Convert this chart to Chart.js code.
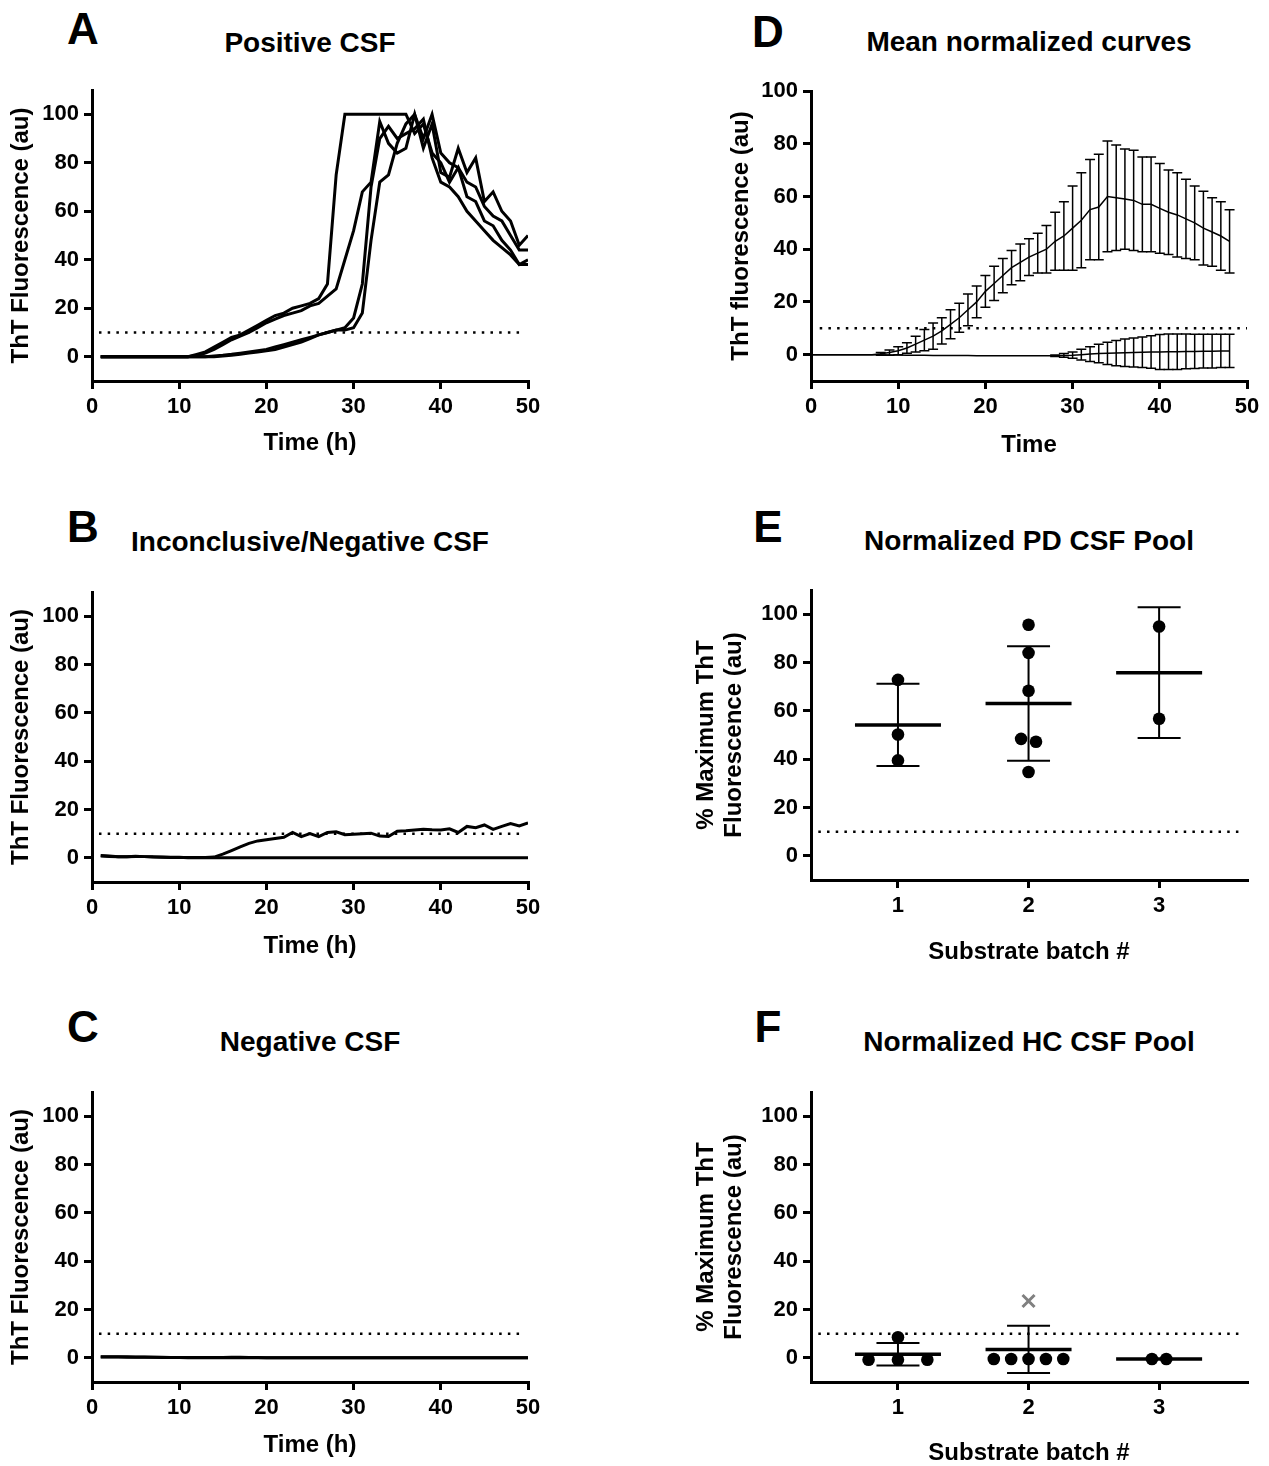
<!DOCTYPE html>
<html>
<head>
<meta charset="utf-8">
<script src="https://cdn.jsdelivr.net/npm/chart.js@4.4.0/dist/chart.umd.min.js"></script>
<style>
  body { margin: 0; background: #fff; }
  #page { position: relative; width: 1269px; height: 1466px; overflow: hidden; }
  canvas { position: absolute; }
  .lbl { position: absolute; transform: translate(-50%, -50%); white-space: nowrap;
         font-family: 'Liberation Sans', Arial, Helvetica, sans-serif; font-weight: bold; color: #000; line-height: 1; }
  .letter { font-size: 44px; }
  .title { font-size: 28px; }
</style>
</head>
<body>
<div id="page">
  <canvas id="chartA"></canvas>
  <canvas id="chartB"></canvas>
  <canvas id="chartC"></canvas>
  <canvas id="chartD"></canvas>
  <canvas id="chartE"></canvas>
  <canvas id="chartF"></canvas>

  <div class="lbl letter" style="left:83px; top:29px;">A</div>
  <div class="lbl letter" style="left:83px; top:527px;">B</div>
  <div class="lbl letter" style="left:83px; top:1027px;">C</div>
  <div class="lbl letter" style="left:768px; top:32px;">D</div>
  <div class="lbl letter" style="left:768px; top:527px;">E</div>
  <div class="lbl letter" style="left:768px; top:1027px;">F</div>

  <div class="lbl title" style="left:310px; top:43px;">Positive CSF</div>
  <div class="lbl title" style="left:310px; top:542px;">Inconclusive/Negative CSF</div>
  <div class="lbl title" style="left:310px; top:1042px;">Negative CSF</div>
  <div class="lbl title" style="left:1029px; top:42px;">Mean normalized curves</div>
  <div class="lbl title" style="left:1029px; top:541px;">Normalized PD CSF Pool</div>
  <div class="lbl title" style="left:1029px; top:1042px;">Normalized HC CSF Pool</div>
</div>

<script>
// ---- data ----
const THRESHOLD = 10;

// time points (h) for the individual RT-QuIC traces
const hours = [1,2,3,4,5,6,7,8,9,10,11,12,13,14,15,16,17,18,19,20,21,22,23,24,25,
  26,27,28,29,30,31,32,33,34,35,36,37,38,39,40,41,42,43,44,45,46,47,48,49,50];

// A: positive CSF, 4 traces
const posTrace1 = [0,0,0,0,0,0,0,0,0,0,0,1,2,4,6,8,9,11,13,15,17,18,20,21,22,
  24,30,75,100,100,100,100,100,100,100,100,92,96,84,80,72,78,66,64,56,54,48,44,38,40];
const posTrace2 = [0,0,0,0,0,0,0,0,0,0,0,0.5,1.5,3,5,7,8.5,10,12,14,15.5,17,18,19,21,
  22,25,28,40,52,68,72,97,88,84,86,100,86,96,76,74,86,76,82,64,68,60,56,46,50];
const posTrace3 = [0,0,0,0,0,0,0,0,0,0,0,0,0,0.3,0.6,1,1.5,2,2.5,3,4,5,6,7,8,
  9,10,11,12,16,30,70,90,95,90,92,94,98,82,72,70,66,60,56,52,48,45,42,38,38];
const posTrace4 = [0,0,0,0,0,0,0,0,0,0,0,0,0,0,0.3,0.6,1,1.5,2,2.5,3,4,5,6,7.5,
  9,10,11,11,12,18,48,72,75,88,96,100,90,100,84,80,78,72,70,62,58,56,50,44,44];

// B: inconclusive / negative CSF, 2 traces
const incTrace1 = [0.8,0.6,0.5,0.5,0.6,0.5,0.4,0.3,0.2,0.2,0,0,0,0,0,0,0,0,0,0,0,0,0,0,0,
  0,0,0,0,0,0,0,0,0,0,0,0,0,0,0,0,0,0,0,0,0,0,0,0,0];
const incTrace2 = [1,0.8,0.5,0.5,0.7,0.5,0.3,0.2,0.1,0.1,0.1,0.1,0.1,0.3,1.5,3,4.5,6,7,7.5,8,8.5,10.5,8.8,10,
  8.8,10.5,10.8,9.6,9.8,10,10.2,9,8.8,11,11.2,11.5,11.8,11.6,11.5,12,10.5,13,12.5,13.6,11.8,13,14.2,13.2,14.5];

// C: negative CSF, 2 traces
const negTrace1 = [0.5,0.5,0.4,0.4,0.3,0.3,0.2,0.2,0.1,0.1,0,0,0,0,0,0,0,0,0,0,0,0,0,0,0,
  0,0,0,0,0,0,0,0,0,0,0,0,0,0,0,0,0,0,0,0,0,0,0,0,0];
const negTrace2 = [0.3,0.3,0.3,0.2,0.2,0.2,0.2,0.1,0.1,0.1,0.1,0.1,0.1,0.1,0.1,0.2,0.2,0.1,0.1,0,0,0,0,0,0,
  0,0,0,0,0,0,0,0,0,0,0,0,0,0,0,0,0,0,0,0,0,0,0,0,0];

// D: mean normalized curves (mean +/- SD)
const meanHours = [0,1,2,3,4,5,6,7,8,9,10,11,12,13,14,15,16,17,18,19,20,21,22,23,24,
  25,26,27,28,29,30,31,32,33,34,35,36,37,38,39,40,41,42,43,44,45,46,47,48];
const posMean = [0,0,0,0,0,0,0,0,0.3,0.8,1.5,2.5,4,5.5,7,9,11.5,14,17,20,24,27,30,33,35,
  37,38.5,40,43,45,48,51,55,56,60,59.5,59,58.5,57,57,55.5,54,53,51.5,50,48,46.5,45,43];
const posSd = [null,null,null,null,null,null,null,null,0.5,1,1.5,2,3,4,5,5,5.5,5.5,6,6,6,6.5,6.5,6.5,7,
  7,7.5,9,11,13,16,18,19,20,21,20,19,19,18,18,17,16,16,15,14,14,13,13,12];
const negMean = [0,0,0,0,0,0,0,0,0,-0.1,-0.1,-0.2,-0.2,-0.2,-0.3,-0.3,-0.3,-0.3,-0.3,-0.4,-0.4,-0.4,-0.4,-0.4,-0.4,
  -0.4,-0.4,-0.4,-0.4,-0.3,-0.2,0,0.2,0.4,0.5,0.6,0.7,0.8,0.9,1,1,1.1,1.1,1.2,1.2,1.3,1.3,1.4,1.4];
const negSd = [null,null,null,null,null,null,null,null,null,null,null,null,null,null,null,null,null,null,null,null,null,null,null,null,null,
  null,null,null,0.3,0.7,1.2,2,2.8,3.5,4.2,4.8,5.2,5.5,5.8,6.2,6.6,6.7,6.7,6.6,6.5,6.4,6.4,6.3,6.3];

// E: normalized PD CSF pool, per substrate batch
const batches = [1, 2, 3];
const pdBatch1 = [72.8, 50.2, 39.5];
const pdBatch2 = [95.6, 84, 68.3, 48.4, 47.2, 34.7];
const pdBatch3 = [94.9, 56.7];
// horizontal jitter (in batch units) of the dots
const pdJitter1 = [0, 0, 0];
const pdJitter2 = [0, 0, 0, -0.057, 0.057, 0];
const pdJitter3 = [0, 0];

// F: normalized HC CSF pool
const hcBatch1 = [8.5, -0.8, -0.8, -0.8];
const hcBatch2 = [-0.5, -0.5, -0.5, -0.5, -0.5];
const hcBatch2Excluded = [23.5];
const hcBatch3 = [-0.5, -0.5];
const hcJitter1 = [0, -0.225, 0, 0.225];
const hcJitter2 = [-0.266, -0.133, 0, 0.133, 0.266];
const hcJitter3 = [-0.055, 0.055];

const timeTicks = [0, 10, 20, 30, 40, 50];
const pctTicks = [0, 20, 40, 60, 80, 100];

// ---- helpers ----
const FONT = "'Liberation Sans', Arial, Helvetica, sans-serif";
Chart.defaults.font.family = FONT;
Chart.defaults.color = '#000';

const TICK_FONT = { size: 22, weight: 'bold' };
const AXIS_FONT = { size: 24, weight: 'bold', lineHeight: 1.2 };
const LH = 24 * 1.2;

function xy(xs, ys) {
  return ys.map((v, i) => ({ x: xs[i], y: v }));
}
function mean(a) { return a.reduce((s, v) => s + v, 0) / a.length; }
function sd(a) {
  const m = mean(a);
  return Math.sqrt(a.reduce((s, v) => s + (v - m) * (v - m), 0) / (a.length - 1));
}

function trace(xs, ys, width) {
  return { data: xy(xs, ys), showLine: true, borderColor: '#000', borderWidth: width,
           pointRadius: 0, borderJoinStyle: 'miter' };
}
function threshold(x0, x1) {
  return { data: [{ x: x0, y: THRESHOLD }, { x: x1, y: THRESHOLD }], showLine: true,
           borderColor: '#000', borderWidth: 2.5, borderDash: [2.5, 6.2], pointRadius: 0 };
}

// draws mean +/- SD bars for datasets that carry an "errors" array
const errorBarPlugin = {
  id: 'errorBars',
  afterDatasetsDraw(chart) {
    const ctx = chart.ctx;
    const xs = chart.scales.x, ys = chart.scales.y;
    chart.data.datasets.forEach(ds => {
      if (!ds.errors) return;
      ctx.save();
      ctx.strokeStyle = '#000';
      ctx.lineWidth = ds.errorWidth;
      ds.data.forEach((p, j) => {
        const e = ds.errors[j];
        if (e == null) return;
        const px = xs.getPixelForValue(p.x);
        const top = ys.getPixelForValue(p.y + e);
        const bot = ys.getPixelForValue(p.y - e);
        const c = ds.capHalf;
        ctx.beginPath();
        ctx.moveTo(px, top); ctx.lineTo(px, bot);
        ctx.moveTo(px - c, top); ctx.lineTo(px + c, top);
        ctx.moveTo(px - c, bot); ctx.lineTo(px + c, bot);
        ctx.stroke();
      });
      ctx.restore();
    });
  }
};

function axisCommon() {
  return {
    grid: { display: true, drawOnChartArea: false, drawTicks: true, tickLength: 8,
            color: '#000', lineWidth: 3, tickWidth: 3 },
    border: { display: true, color: '#000', width: 3 },
  };
}

function makePanel(id, p) {
  const canvas = document.getElementById(id);
  const top = p.area.t - 24;
  const bottom = p.xTitleY + 17;
  canvas.width = p.canvasW;
  canvas.height = bottom - top;
  canvas.style.left = p.canvasL + 'px';
  canvas.style.top = top + 'px';

  return new Chart(canvas, {
    type: 'scatter',
    data: { datasets: p.datasets },
    options: {
      responsive: false,
      animation: false,
      events: [],
      layout: { autoPadding: false,
                padding: { left: 0, top: p.area.t - top, right: p.canvasL + p.canvasW - p.area.r, bottom: 0 } },
      plugins: { legend: { display: false }, tooltip: { enabled: false } },
      scales: {
        x: Object.assign(axisCommon(), {
          type: 'linear', min: p.xMin, max: p.xMax,
          afterBuildTicks: s => { s.ticks = p.xTicks.map(v => ({ value: v })); },
          afterFit: s => { s.height = bottom - p.area.b; },
          ticks: { font: TICK_FONT, padding: 5, color: '#000', autoSkip: false, maxRotation: 0 },
          title: { display: true, text: p.xTitle, font: AXIS_FONT, color: '#000',
                   padding: { top: 0, bottom: 17 - LH / 2 } }
        }),
        y: Object.assign(axisCommon(), {
          type: 'linear', min: p.yMin, max: p.yMax,
          afterBuildTicks: s => { s.ticks = p.yTicks.map(v => ({ value: v })); },
          afterFit: s => { s.width = p.area.l - p.canvasL; },
          ticks: { font: TICK_FONT, padding: 5, color: '#000' },
          title: { display: true, text: p.yTitle, font: AXIS_FONT, color: '#000',
                   padding: { top: p.yTitleX - p.canvasL - LH / 2, bottom: 0 } }
        })
      }
    },
    plugins: [errorBarPlugin]
  });
}

// ---- A, B, C: individual traces ----
const leftCol = { canvasL: 0, canvasW: 560, xMin: 0, xMax: 50, yMin: -10, yMax: 110,
  xTicks: timeTicks, yTicks: pctTicks, xTitle: 'Time (h)', yTitle: 'ThT Fluorescence (au)', yTitleX: 21 };

makePanel('chartA', Object.assign({}, leftCol, {
  area: { l: 92, t: 90, r: 528, b: 381 }, xTitleY: 443,
  datasets: [threshold(0.8, 49.4),
    trace(hours, posTrace1, 3), trace(hours, posTrace2, 3),
    trace(hours, posTrace3, 3), trace(hours, posTrace4, 3)]
}));

makePanel('chartB', Object.assign({}, leftCol, {
  area: { l: 92, t: 592, r: 528, b: 882 }, xTitleY: 946,
  datasets: [threshold(0.8, 49.4), trace(hours, incTrace1, 3), trace(hours, incTrace2, 3)]
}));

makePanel('chartC', Object.assign({}, leftCol, {
  area: { l: 92, t: 1092, r: 528, b: 1382 }, xTitleY: 1445,
  datasets: [threshold(0.8, 49.4), trace(hours, negTrace1, 3), trace(hours, negTrace2, 3)]
}));

// ---- D: mean curves with SD ----
function meanCurve(ys, errs) {
  const ds = trace(meanHours, ys, 1.5);
  ds.errors = errs;
  ds.errorWidth = 1.5;
  ds.capHalf = 5;
  return ds;
}
makePanel('chartD', {
  canvasL: 680, canvasW: 589, xMin: 0, xMax: 50, yMin: -10, yMax: 100,
  xTicks: timeTicks, yTicks: pctTicks, xTitle: 'Time', yTitle: 'ThT fluorescence (au)', yTitleX: 741,
  area: { l: 811, t: 91, r: 1247, b: 381 }, xTitleY: 445,
  datasets: [threshold(1, 50), meanCurve(posMean, posSd), meanCurve(negMean, negSd)]
});

// ---- E, F: normalized pools ----
function dots(batch, values, jitter, style) {
  return Object.assign({
    data: values.map((v, i) => ({ x: batch + jitter[i], y: v })),
    pointRadius: 6.3, pointBackgroundColor: '#000', pointBorderColor: '#000', pointBorderWidth: 0
  }, style || {});
}
function meanBars(groups) {
  return {
    data: groups.map((g, i) => ({ x: batches[i], y: mean(g) })),
    errors: groups.map(g => g.length > 1 ? sd(g) : 0),
    pointStyle: 'line', pointRadius: 43, pointBorderWidth: 3.5, pointBorderColor: '#000',
    errorWidth: 2, capHalf: 21.5
  };
}
const rightPool = { canvasL: 680, canvasW: 589, xMin: 0.334, xMax: 3.673, yMin: -10, yMax: 110,
  xTicks: batches, yTicks: pctTicks, xTitle: 'Substrate batch #',
  yTitle: ['% Maximum ThT', 'Fluorescence (au)'], yTitleX: 706 };

makePanel('chartE', Object.assign({}, rightPool, {
  area: { l: 811, t: 590, r: 1247, b: 880 }, xTitleY: 952,
  datasets: [threshold(0.39, 3.61),
    dots(1, pdBatch1, pdJitter1), dots(2, pdBatch2, pdJitter2), dots(3, pdBatch3, pdJitter3),
    meanBars([pdBatch1, pdBatch2, pdBatch3])]
}));

makePanel('chartF', Object.assign({}, rightPool, {
  area: { l: 811, t: 1092, r: 1247, b: 1382 }, xTitleY: 1453,
  datasets: [threshold(0.39, 3.61),
    dots(1, hcBatch1, hcJitter1), dots(2, hcBatch2, hcJitter2), dots(3, hcBatch3, hcJitter3),
    dots(2, hcBatch2Excluded, [0], { pointStyle: 'crossRot', pointRadius: 8.5, pointBorderWidth: 3,
      pointBorderColor: '#808080', pointBackgroundColor: '#808080' }),
    meanBars([hcBatch1, hcBatch2.concat(hcBatch2Excluded), hcBatch3])]
}));
</script>
</body>
</html>
